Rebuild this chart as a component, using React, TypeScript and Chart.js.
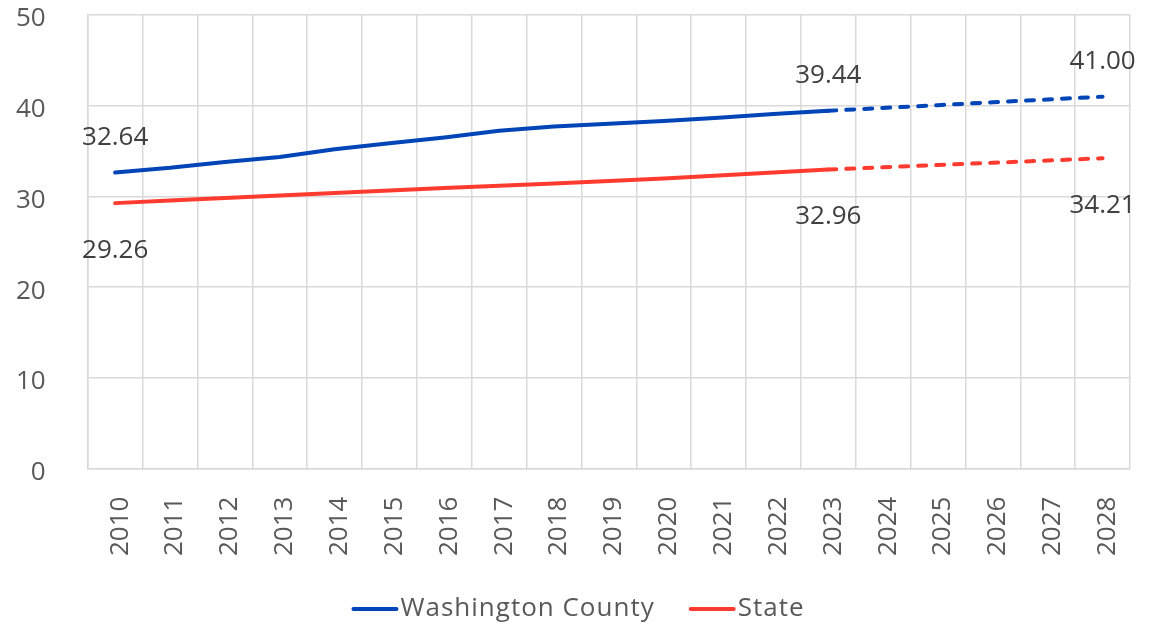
import React, { useEffect, useRef } from "react";
import { Chart, registerables } from "chart.js";

Chart.register(...registerables);

const years = [
  "2010", "2011", "2012", "2013", "2014", "2015", "2016", "2017", "2018", "2019",
  "2020", "2021", "2022", "2023", "2024", "2025", "2026", "2027", "2028",
];

const washingtonCounty = [
  32.64, 33.15, 33.8, 34.35, 35.2, 35.85, 36.5, 37.25, 37.7, 38.0,
  38.32, 38.68, 39.08, 39.44, 39.75, 40.06, 40.38, 40.69, 41.0,
];

const state = [
  29.26, 29.55, 29.83, 30.1, 30.38, 30.65, 30.92, 31.18, 31.42, 31.7,
  31.98, 32.3, 32.63, 32.96, 33.21, 33.46, 33.71, 33.96, 34.21,
];

const seriesNames = ["Washington County", "State"];
const seriesColors = ["#0045b8", "#ff3b30"];
const yTicks = [0, 10, 20, 30, 40, 50];
const forecastStartIndex = 13;
const labeledIndices = [0, 13, 18];

const FONT = "'Open Sans', sans-serif";
const FONT_SIZE = 26;
const TICK_COLOR = "#595959";
const LABEL_COLOR = "#404040";
const GRID_COLOR = "#d9d9d9";

const dataLabelPlugin = {
  id: "dataLabelPlugin",
  afterDatasetsDraw(chart: any) {
    const ctx = chart.ctx;
    ctx.save();
    ctx.font = `${FONT_SIZE}px ${FONT}`;
    ctx.fillStyle = LABEL_COLOR;
    ctx.textAlign = "center";
    ctx.textBaseline = "middle";
    chart.data.datasets.forEach((ds: any, di: number) => {
      const meta = chart.getDatasetMeta(di);
      labeledIndices.forEach((i) => {
        const el = meta.data[i];
        if (!el) return;
        const v = ds.data[i] as number;
        const dy = di === 0 ? -35 : 47;
        ctx.fillText(v.toFixed(2), el.x, el.y + dy);
      });
    });
    ctx.restore();
  },
};

const bottomLegendPlugin = {
  id: "bottomLegendPlugin",
  afterDraw(chart: any) {
    const ctx = chart.ctx;
    ctx.save();
    ctx.font = `${FONT_SIZE}px ${FONT}`;
    (ctx as any).letterSpacing = "1px";
    const lineW = 45;
    const gap = 3;
    const itemGap = 35;
    const items = chart.data.datasets.map((ds: any) => ({
      text: ds.label as string,
      color: ds.borderColor as string,
    }));
    const widths = items.map(
      (it: any) => lineW + gap + ctx.measureText(it.text).width
    );
    const total =
      widths.reduce((a: number, b: number) => a + b, 0) +
      itemGap * (items.length - 1);
    let x = (chart.width - total) / 2;
    const y = chart.height - 17;
    items.forEach((it: any, i: number) => {
      ctx.strokeStyle = it.color;
      ctx.lineWidth = 4;
      ctx.lineCap = "round";
      ctx.beginPath();
      ctx.moveTo(x + 1, y);
      ctx.lineTo(x + lineW - 1, y);
      ctx.stroke();
      ctx.fillStyle = TICK_COLOR;
      ctx.textAlign = "left";
      ctx.textBaseline = "middle";
      ctx.fillText(it.text, x + lineW + gap, y);
      x += widths[i] + itemGap;
    });
    ctx.restore();
  },
};

export default function App() {
  const canvasRef = useRef<HTMLCanvasElement | null>(null);

  useEffect(() => {
    const canvas = canvasRef.current;
    if (!canvas) return;
    const seriesData = [washingtonCounty, state];
    const chart = new Chart(canvas, {
      type: "line",
      data: {
        labels: years,
        datasets: seriesData.map((d, i) => ({
          label: seriesNames[i],
          data: d,
          borderColor: seriesColors[i],
          backgroundColor: seriesColors[i],
          borderWidth: 4,
          pointRadius: 0,
          pointHoverRadius: 0,
          tension: 0,
          borderCapStyle: "round" as const,
          borderJoinStyle: "round" as const,
          segment: {
            borderDash: (ctx: any) =>
              ctx.p0DataIndex >= forecastStartIndex ? [8, 10] : undefined,
          },
        })),
      },
      options: {
        animation: false,
        responsive: true,
        maintainAspectRatio: false,
        devicePixelRatio: 1,
        layout: {
          padding: { left: 16, right: 27, top: 1, bottom: 70 },
        },
        plugins: {
          legend: { display: false },
          tooltip: { enabled: false },
        },
        scales: {
          x: {
            type: "category",
            offset: true,
            afterFit: (scale: any) => {
              scale.paddingLeft = 0;
              scale.paddingRight = 0;
              scale.height -= scale.options.ticks.padding;
            },
            grid: {
              offset: true,
              color: GRID_COLOR,
              lineWidth: 1.5,
              drawTicks: false,
            },
            border: { display: true, color: GRID_COLOR, width: 1.5 },
            ticks: {
              color: TICK_COLOR,
              font: { family: FONT, size: FONT_SIZE },
              minRotation: 90,
              maxRotation: 90,
              padding: 28,
              labelOffset: 5,
              autoSkip: false,
            },
          },
          y: {
            min: yTicks[0],
            max: yTicks[yTicks.length - 1],
            afterBuildTicks: (scale: any) => {
              scale.ticks = yTicks.map((v) => ({ value: v }));
            },
            afterFit: (scale: any) => {
              scale.paddingTop = 15;
              scale.paddingBottom = 0;
              scale.width -= scale.options.ticks.padding;
            },
            grid: {
              color: GRID_COLOR,
              lineWidth: 1.5,
              drawTicks: false,
            },
            border: { display: true, color: GRID_COLOR, width: 1.5 },
            ticks: {
              color: TICK_COLOR,
              font: { family: FONT, size: FONT_SIZE },
              padding: 42,
              labelOffset: 4,
            },
          },
        },
      },
      plugins: [dataLabelPlugin, bottomLegendPlugin],
    });
    return () => chart.destroy();
  }, []);

  return (
    <div
      style={{
        position: "absolute",
        left: 0,
        top: 0,
        width: 1157,
        height: 626,
        background: "#ffffff",
      }}
    >
      <canvas ref={canvasRef} />
    </div>
  );
}
